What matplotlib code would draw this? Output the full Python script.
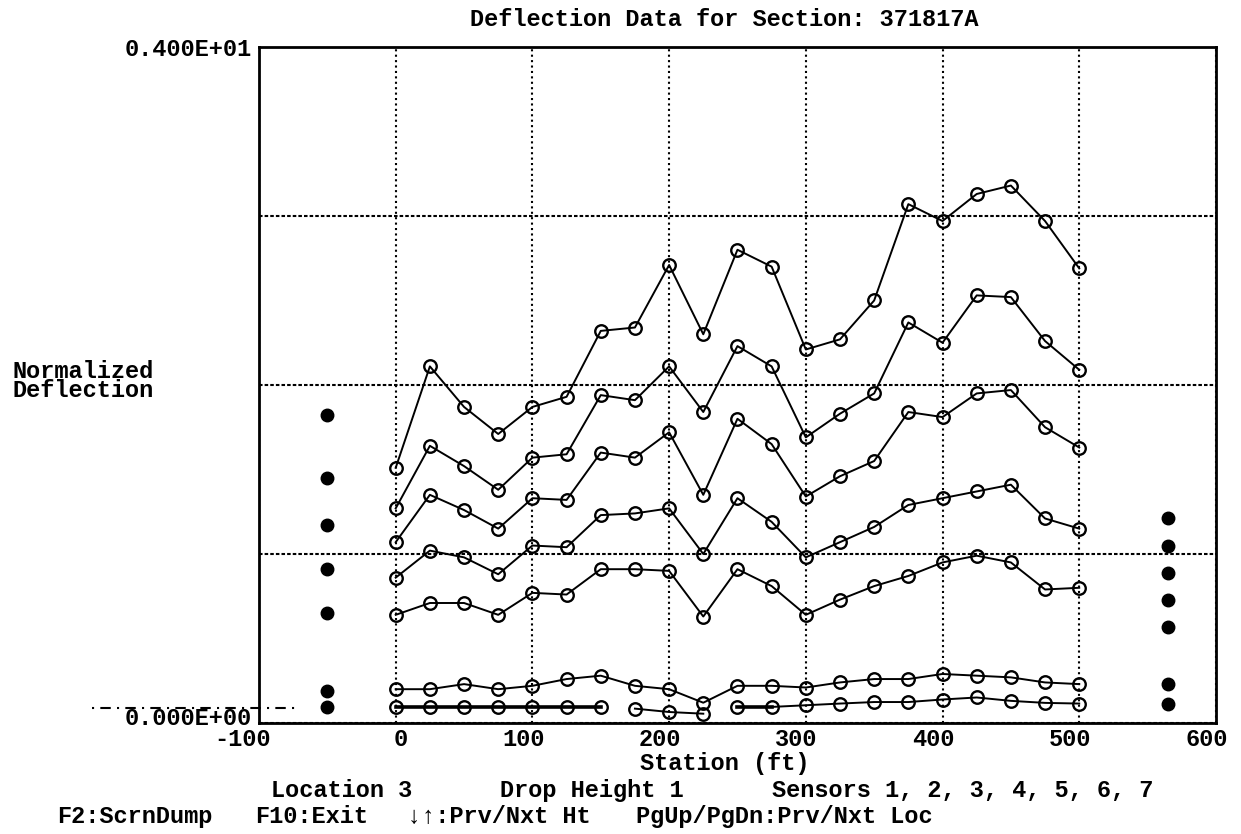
import matplotlib
matplotlib.use('Agg')
import matplotlib.pyplot as plt
from matplotlib.transforms import ScaledTranslation

# ---------------- data ----------------
station = [0, 25, 50, 75, 100, 125, 150, 175, 200, 225, 250,
           275, 300, 325, 350, 375, 400, 425, 450, 475, 500]

sensor1 = [1.51, 2.11, 1.87, 1.71, 1.87, 1.93, 2.32, 2.34, 2.71, 2.30, 2.80,
           2.70, 2.21, 2.27, 2.50, 3.07, 2.97, 3.13, 3.18, 2.97, 2.69]
sensor2 = [1.27, 1.64, 1.52, 1.38, 1.57, 1.59, 1.94, 1.91, 2.11, 1.84, 2.23,
           2.11, 1.69, 1.83, 1.95, 2.37, 2.25, 2.53, 2.52, 2.26, 2.09]
sensor3 = [1.07, 1.35, 1.26, 1.15, 1.33, 1.32, 1.60, 1.57, 1.72, 1.35, 1.80,
           1.65, 1.34, 1.46, 1.55, 1.84, 1.81, 1.95, 1.97, 1.75, 1.63]
sensor4 = [0.86, 1.02, 0.98, 0.88, 1.05, 1.04, 1.23, 1.24, 1.27, 1.00, 1.33,
           1.19, 0.98, 1.07, 1.16, 1.29, 1.33, 1.37, 1.41, 1.21, 1.15]
sensor5 = [0.64, 0.71, 0.71, 0.64, 0.77, 0.76, 0.91, 0.91, 0.90, 0.63, 0.91,
           0.81, 0.64, 0.73, 0.81, 0.87, 0.95, 0.99, 0.95, 0.79, 0.80]
sensor6 = [0.20, 0.20, 0.23, 0.20, 0.22, 0.26, 0.28, 0.22, 0.20, 0.12, 0.22,
           0.22, 0.21, 0.24, 0.26, 0.26, 0.29, 0.28, 0.27, 0.24, 0.23]
sensor7 = [0.095, 0.095, 0.095, 0.095, 0.095, 0.095, 0.095, 0.085, 0.065, 0.055, 0.095,
           0.095, 0.105, 0.115, 0.124, 0.124, 0.139, 0.151, 0.131, 0.119, 0.115]

left_marker_x = -50
left_marker_y = [1.82, 1.45, 1.17, 0.91, 0.65, 0.19, 0.095]
right_marker_x = 565
right_marker_y = [1.21, 1.05, 0.89, 0.73, 0.57, 0.23, 0.115]

artifact_x = [-222, -70]
artifact_y = [0.087, 0.087]

x_ticks = [-100, 0, 100, 200, 300, 400, 500, 600]
x_tick_labels = ['-100', '0', '100', '200', '300', '400', '500', '600']
y_ticks = [0, 1, 2, 3, 4]
y_tick_labels = ['0.000E+00', '', '', '', '0.400E+01']

title = 'Deflection Data for Section: 371817A'
ylabel = 'Normalized\nDeflection'
xlabel = 'Station (ft)'
info_parts = ['Location 3', 'Drop Height 1', 'Sensors 1, 2, 3, 4, 5, 6, 7']
key_parts = ['F2:ScrnDump', 'F10:Exit', '\u2193\u2191:Prv/Nxt Ht', 'PgUp/PgDn:Prv/Nxt Loc']

# ---------------- style ----------------
plt.rcParams['font.family'] = ['Liberation Mono', 'DejaVu Sans Mono']
plt.rcParams['font.weight'] = 'bold'
FS = 17

fig = plt.figure(figsize=(12.41, 8.34), dpi=100)
ax = fig.add_axes([0.2087, 0.1331, 0.7711, 0.8106])
ax.set_xlim(-100, 600)
ax.set_ylim(0, 4)

ax.set_xticks(x_ticks)
ax.set_xticklabels(x_tick_labels, fontsize=FS, fontweight='bold')
ax.set_yticks(y_ticks)
ax.set_yticklabels(y_tick_labels, fontsize=FS, fontweight='bold')
ax.tick_params(length=0)
ax.tick_params(axis='x', pad=3.5)
ax.tick_params(axis='y', pad=5)
xoff = ScaledTranslation(12 / 100, 0, fig.dpi_scale_trans)
for lab in ax.get_xticklabels():
    lab.set_ha('right')
    lab.set_transform(lab.get_transform() + xoff)
yoff = ScaledTranslation(0, 7 / 100, fig.dpi_scale_trans)
ylabs = ax.get_yticklabels()
ylabs[0].set_transform(ylabs[0].get_transform() + yoff)

ax.xaxis.grid(True, color='k', lw=1.5, ls=(0, (1, 1.6)))
ax.yaxis.grid(True, color='k', lw=1.5, ls=(0, (1.7, 1)))
ax.set_axisbelow(True)
for sp in ax.spines.values():
    sp.set_linewidth(2)
    sp.set_color('k')

mk = dict(marker='o', ms=9, mfc='none', mec='k', mew=1.7)
for s in [sensor1, sensor2, sensor3, sensor4, sensor5, sensor6]:
    ax.plot(station, s, color='k', lw=1.4, **mk)

# sensor 7 drawn in broken segments as in the screen dump
ax.plot(station, sensor7, ls='none', **mk)
ax.plot(station[0:7], sensor7[0:7], color='k', lw=2.6)
ax.plot(station[7:10], sensor7[7:10], color='k', lw=1.4)
ax.plot(station[10:12], sensor7[10:12], color='k', lw=2.6)
ax.plot(station[11:], sensor7[11:], color='k', lw=1.4)

ax.plot([left_marker_x] * len(left_marker_y), left_marker_y, ls='none',
        marker='o', ms=9, color='k')
ax.plot([right_marker_x] * len(right_marker_y), right_marker_y, ls='none',
        marker='o', ms=9, color='k')

ax.plot(artifact_x, artifact_y, color='k', lw=1.5, ls=(0, (1, 3, 5, 3)), clip_on=False)

# ---------------- texts ----------------
W, H = 1241.0, 834.0
def ft(xpx, ypx, s, ha='left', va='baseline', **kw):
    fig.text(xpx / W, 1 - ypx / H, s, ha=ha, va=va, fontsize=FS, fontweight='bold', **kw)

ft(724.5, 26, title, ha='center')
ft(12, 360, ylabel, va='top', linespacing=0.8)
ft(725, 770, xlabel, ha='center')
ft(271, 797, info_parts[0])
ft(500, 797, info_parts[1])
ft(772, 797, info_parts[2])
ft(57, 823, key_parts[0])
ft(255, 823, key_parts[1])
ft(407, 823, key_parts[2])
ft(636, 823, key_parts[3])

fig.savefig('out.png', dpi=100)
